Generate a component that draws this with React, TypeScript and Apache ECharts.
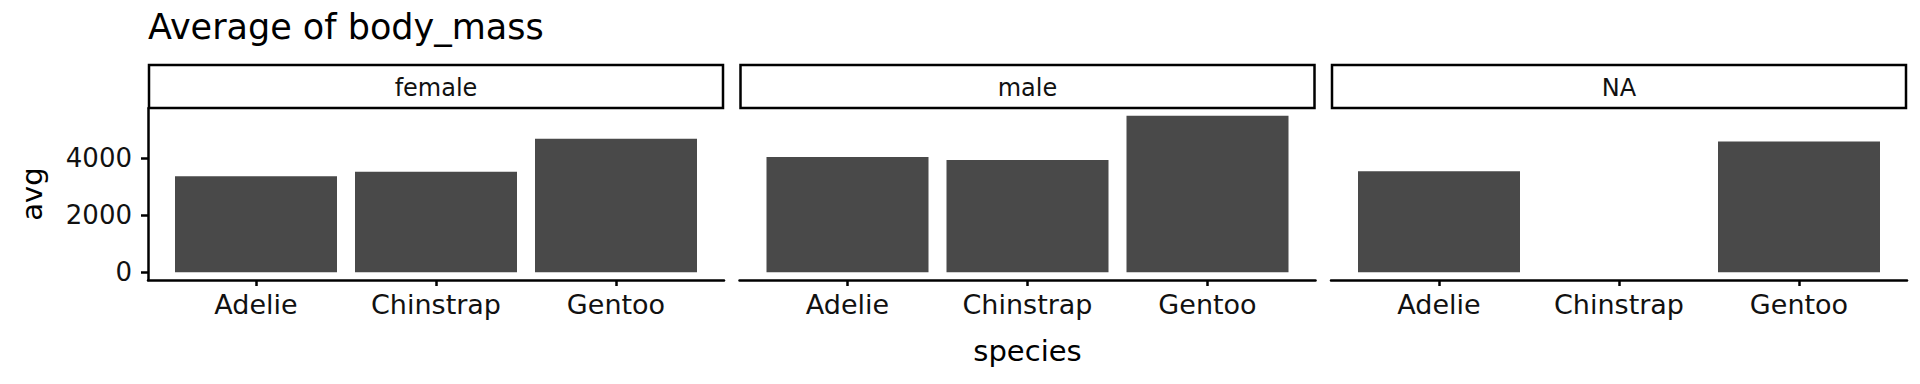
import React, { useEffect, useRef } from 'react';
import * as echarts from 'echarts';

// ---- data ----
const species = ['Adelie', 'Chinstrap', 'Gentoo'];
const sexes = ['female', 'male', 'NA'];
const femaleAvg: (number | null)[] = [3369, 3527, 4680];
const maleAvg: (number | null)[] = [4043, 3939, 5485];
const naAvg: (number | null)[] = [3540, null, 4588];
const yTicks = [0, 2000, 4000];
const chartTitle = 'Average of body_mass';
const xTitle = 'species';
const yTitle = 'avg';

const panelValues = [femaleAvg, maleAvg, naAvg];

// ---- layout ----
const FONT = 'DejaVu Sans';
const PANEL_LEFTS = [148, 739.5, 1331];
const PANEL_W = 576;
const PANEL_TOP = 108;
const PANEL_H = 172;
const STRIP_TOP = 65;
const BAR_COLOR = '#494949';
const TEXT_COLOR = '#111';

export default function App() {
  const ref = useRef<HTMLDivElement>(null);

  useEffect(() => {
    if (!ref.current) return;
    const chart = echarts.init(ref.current, undefined, { renderer: 'svg' });

    const all = panelValues.flat().filter((v) => v != null) as number[];
    const dataMax = Math.max(...all, 0);
    const pad = 0.05 * (dataMax - 0);
    const yMin = -pad;
    const yMax = dataMax + pad;
    const xMin = 0.4;
    const xMax = species.length + 0.6;
    const xPositions = species.map((_, i) => i + 1);
    const barWidth = (PANEL_W / (xMax - xMin)) * 0.9;

    const grids = PANEL_LEFTS.map((left) => ({
      left,
      top: PANEL_TOP,
      width: PANEL_W,
      height: PANEL_H,
      containLabel: false,
    }));

    const xAxes = PANEL_LEFTS.map((_, i) => ({
      type: 'value',
      gridIndex: i,
      min: xMin,
      max: xMax,
      axisLine: { show: true, onZero: false, lineStyle: { color: '#000', width: 2.5 } },
      axisTick: {
        show: true,
        customValues: xPositions,
        length: 6,
        lineStyle: { color: '#000', width: 2.5 },
      },
      axisLabel: {
        show: true,
        customValues: xPositions,
        formatter: (v: number) => species[Math.round(v) - 1] ?? '',
        margin: 11,
        fontSize: 27,
        fontFamily: FONT,
        color: TEXT_COLOR,
      },
      splitLine: { show: false },
    }));

    const yAxes = PANEL_LEFTS.map((_, i) => ({
      type: 'value',
      gridIndex: i,
      min: yMin,
      max: yMax,
      show: i === 0,
      axisLine: { show: true, lineStyle: { color: '#000', width: 2.5 } },
      axisTick: {
        show: true,
        customValues: yTicks,
        length: 7,
        lineStyle: { color: '#000', width: 2.5 },
      },
      axisLabel: {
        show: true,
        customValues: yTicks,
        formatter: (v: number) => String(Math.round(v)),
        margin: 16,
        fontSize: 26,
        fontFamily: FONT,
        color: TEXT_COLOR,
      },
      splitLine: { show: false },
    }));

    const series = panelValues.map((vals, i) => ({
      type: 'bar',
      xAxisIndex: i,
      yAxisIndex: i,
      barWidth,
      itemStyle: { color: BAR_COLOR },
      data: vals
        .map((v, j) => (v == null ? null : [xPositions[j], v]))
        .filter((d) => d != null),
    }));

    const graphics: any[] = [];
    PANEL_LEFTS.forEach((left, i) => {
      graphics.push({
        type: 'rect',
        shape: { x: left + 1, y: STRIP_TOP, width: PANEL_W - 2, height: PANEL_TOP - STRIP_TOP },
        style: { fill: '#fff', stroke: '#000', lineWidth: 2.5 },
        z: 10,
      });
      graphics.push({
        type: 'text',
        x: left + PANEL_W / 2,
        y: 88,
        style: {
          text: sexes[i],
          fontSize: 24,
          fontFamily: FONT,
          fill: TEXT_COLOR,
          align: 'center',
          verticalAlign: 'middle',
        },
        z: 11,
      });
    });
    graphics.push({
      type: 'text',
      x: 148,
      y: 27,
      style: {
        text: chartTitle,
        fontSize: 35,
        fontFamily: FONT,
        fill: '#000',
        align: 'left',
        verticalAlign: 'middle',
      },
    });
    graphics.push({
      type: 'text',
      x: PANEL_LEFTS[1] + PANEL_W / 2,
      y: 351,
      style: {
        text: xTitle,
        fontSize: 29,
        fontFamily: FONT,
        fill: '#000',
        align: 'center',
        verticalAlign: 'middle',
      },
    });
    graphics.push({
      type: 'text',
      x: 31.5,
      y: PANEL_TOP + PANEL_H / 2,
      rotation: Math.PI / 2,
      style: {
        text: yTitle,
        fontSize: 29,
        fontFamily: FONT,
        fill: '#000',
        align: 'center',
        verticalAlign: 'middle',
      },
    });

    chart.setOption({
      animation: false,
      backgroundColor: '#fff',
      grid: grids,
      xAxis: xAxes,
      yAxis: yAxes,
      series,
      graphic: graphics,
    } as any);

    return () => chart.dispose();
  }, []);

  return (
    <div
      ref={ref}
      style={{ position: 'absolute', left: 0, top: 0, width: 1920, height: 384 }}
    />
  );
}
